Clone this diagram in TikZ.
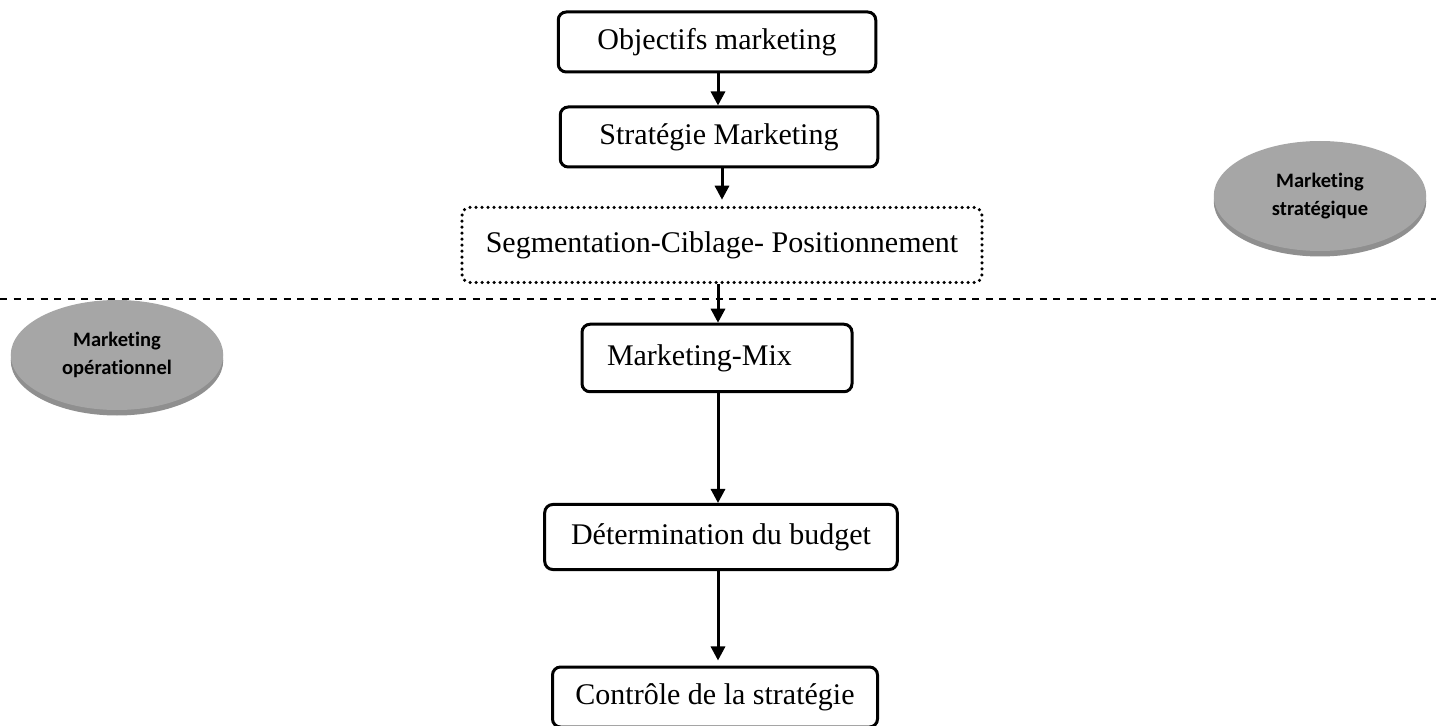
\documentclass[tikz,border=0pt]{standalone}
\usepackage{fontspec}
\setmainfont{Liberation Serif}
\newfontfamily\ellfont[Ligatures=NoCommon]{Carlito}
\definecolor{ellgray}{RGB}{166,166,166}
\definecolor{shadegray}{RGB}{115,115,115}
\usetikzlibrary{arrows.meta,positioning,shapes.geometric,shadows}

\begin{document}
\begin{tikzpicture}[x=0.4pt,y=-0.4pt,
        box/.style={rectangle, rounded corners=3.2pt, draw, line width=1.2pt, align=center,
          inner sep=0pt, font=\fontsize{12}{14}\selectfont},
        dotbox/.style={box, line width=1.4pt, line cap=round, dash pattern=on 0pt off 2.4pt},
        zone/.style={ellipse, fill=ellgray, inner sep=0pt, align=center,
          minimum width=85pt, minimum height=44pt, font=\ellfont\fontsize{8.2}{11.5}\selectfont\bfseries,
          drop shadow={shadow xshift=0pt, shadow yshift=-2.2pt, fill=shadegray, opacity=0.8}},
        arrow/.style={-{Triangle[length=5.6pt,width=5.6pt]}, line width=1.2pt}
      ]
        \useasboundingbox (0,0) rectangle (1436,726);

        \node[box, minimum width=127pt, minimum height=24pt] (obj) at (717,42)  {Objectifs marketing};
        \node[box, minimum width=127pt, minimum height=24pt] (strat) at (719,137) {Strat\'egie Marketing};
        \node[dotbox, minimum width=208pt, minimum height=30pt] (scp) at (722,245) {Segmentation-Ciblage- Positionnement};
        \node[box, minimum width=108pt, minimum height=27pt, text width=88pt, align=left] (mix) at (717,358) {Marketing-Mix};
        \node[box, minimum width=141pt, minimum height=26pt] (budget) at (721,537) {D\'etermination du budget};
        \node[box, minimum width=130pt, minimum height=24pt] (ctrl) at (715,697) {Contr\^ole de la strat\'egie};

        \node[zone] (strz) at (1320,196) {Marketing\\strat\'egique};
        \node[zone] (opz)  at (117,355)  {Marketing\\op\'erationnel};

        \coordinate (lineL) at (0,299);
        \coordinate (lineR) at (1436,299);
        \draw[line width=0.8pt, dash pattern=on 2.8pt off 2.6pt] (lineL) -- (lineR);

        \draw[arrow] ([xshift=0.4pt]obj.south) -- ([xshift=0.4pt]obj.south |- strat.north);
        \draw[arrow, shorten >=2.4pt] ([xshift=1.2pt]strat.south) -- ([xshift=1.2pt]strat.south |- scp.north);
        \draw[arrow] ([xshift=-1.6pt]scp.south) -- ([xshift=-1.6pt]scp.south |- mix.north);
        \draw[arrow] ([xshift=0.4pt]mix.south) -- ([xshift=0.4pt]mix.south |- budget.north);
        \draw[arrow, shorten >=2pt] ([xshift=-1.2pt]budget.south) -- ([xshift=-1.2pt]budget.south |- ctrl.north);
      \end{tikzpicture}
\end{document}
